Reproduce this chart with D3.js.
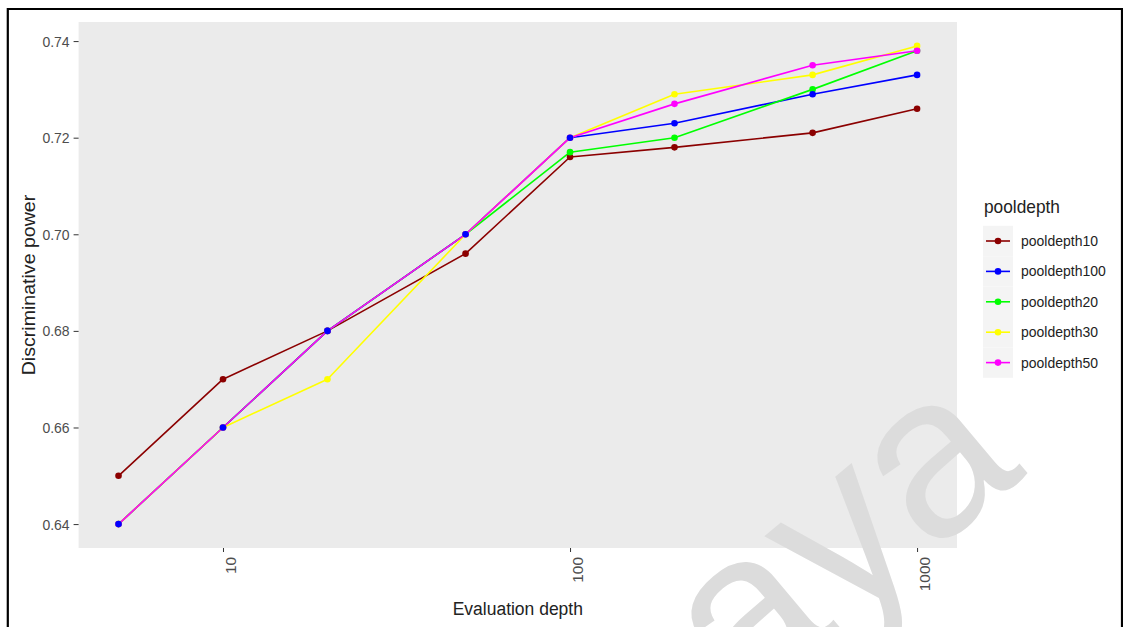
<!DOCTYPE html>
<html>
<head>
<meta charset="utf-8">
<script src="https://cdn.jsdelivr.net/npm/d3@7/dist/d3.min.js"></script>
<style>
  html, body { margin: 0; padding: 0; background: #ffffff; }
  svg { display: block; font-family: "Liberation Sans", Arial, sans-serif; }
</style>
</head>
<body>
<script>
// Evaluation depths (x) and discriminative power per pool depth
const depths = [5, 10, 20, 50, 100, 200, 500, 1000];
const seriesNames = ["pooldepth10", "pooldepth100", "pooldepth20", "pooldepth30", "pooldepth50"];
const pooldepth10  = [0.650, 0.670, 0.680, 0.696, 0.716, 0.718, 0.721, 0.726];
const pooldepth100 = [0.640, 0.660, 0.680, 0.700, 0.720, 0.723, 0.729, 0.733];
const pooldepth20  = [0.640, 0.660, 0.680, 0.700, 0.717, 0.720, 0.730, 0.738];
const pooldepth30  = [0.640, 0.660, 0.670, 0.700, 0.720, 0.729, 0.733, 0.739];
const pooldepth50  = [0.640, 0.660, 0.680, 0.700, 0.720, 0.727, 0.735, 0.738];
const seriesColors = ["#8b0000", "#0000ff", "#00ff00", "#ffff00", "#ff00ff"];
const xTicks = [10, 100, 1000];
const yTicks = [0.64, 0.66, 0.68, 0.70, 0.72, 0.74];

const seriesValues = [pooldepth10, pooldepth100, pooldepth20, pooldepth30, pooldepth50];
const series = seriesNames.map((name, i) => ({
  name,
  color: seriesColors[i],
  points: depths.map((d, j) => ({ x: d, y: seriesValues[i][j] }))
}));

const W = 1123, H = 627;
const panel = { left: 78.6, right: 957, top: 22, bottom: 548 };
const stretch = 1.1; // glyphs are a little taller than wide

const svg = d3.select("body").append("svg").attr("width", W).attr("height", H);

// Scales with ggplot-style 5% expansion (log space for x)
const lx = d3.extent(depths).map(Math.log10);
const ex = (lx[1] - lx[0]) * 0.05;
const x = d3.scaleLog()
  .domain([Math.pow(10, lx[0] - ex), Math.pow(10, lx[1] + ex)])
  .range([panel.left, panel.right]);
const yExt = d3.extent(seriesValues.flat());
const ey = (yExt[1] - yExt[0]) * 0.05;
const y = d3.scaleLinear()
  .domain([yExt[0] - ey, yExt[1] + ey])
  .range([panel.bottom, panel.top]);

// Panel background
svg.append("rect")
  .attr("x", panel.left).attr("y", panel.top)
  .attr("width", panel.right - panel.left).attr("height", panel.bottom - panel.top)
  .attr("fill", "#ebebeb");

// Axes
const yAxis = svg.append("g")
  .attr("transform", `translate(${panel.left},0)`)
  .call(d3.axisLeft(y).tickValues(yTicks).tickFormat(d3.format(".2f")).tickSize(5).tickPadding(4));
yAxis.select(".domain").remove();
yAxis.selectAll(".tick line").attr("stroke", "#333333").attr("stroke-width", 1);
yAxis.selectAll(".tick text")
  .attr("fill", "#4d4d4d")
  .attr("font-size", 14)
  .attr("font-family", "Liberation Sans, Arial, sans-serif")
  .attr("transform", `scale(1,${stretch})`);

const xAxis = svg.append("g")
  .attr("transform", `translate(0,${panel.bottom})`)
  .call(d3.axisBottom(x).tickValues(xTicks).tickFormat(d3.format("d")).tickSize(4));
xAxis.select(".domain").remove();
xAxis.selectAll(".tick line").attr("stroke", "#333333").attr("stroke-width", 1);
xAxis.selectAll(".tick text")
  .attr("fill", "#4d4d4d")
  .attr("font-size", 14)
  .attr("font-family", "Liberation Sans, Arial, sans-serif")
  .attr("x", 0).attr("y", 0).attr("dy", null)
  .attr("text-anchor", "end")
  .attr("transform", `translate(12.5,9) scale(1,${stretch}) rotate(-90)`);

// Lines
const line = d3.line().x(d => x(d.x)).y(d => y(d.y));
svg.append("g").selectAll("path")
  .data(series)
  .join("path")
  .attr("d", d => line(d.points))
  .attr("fill", "none")
  .attr("stroke", d => d.color)
  .attr("stroke-width", 1.6)
  .attr("stroke-linejoin", "round");

// Points (blue drawn last so it sits on top where series coincide)
const pointOrder = ["pooldepth10", "pooldepth20", "pooldepth30", "pooldepth50", "pooldepth100"];
const pg = svg.append("g");
pointOrder.forEach(name => {
  const s = series.find(v => v.name === name);
  pg.append("g").selectAll("circle")
    .data(s.points)
    .join("circle")
    .attr("cx", d => x(d.x))
    .attr("cy", d => y(d.y))
    .attr("r", 3.3)
    .attr("fill", s.color);
});

// Axis titles
function label(g, tx, ty, str, size, anchor, rot) {
  return g.append("text")
    .attr("transform", `translate(${tx},${ty}) scale(1,${stretch})` + (rot ? ` rotate(${rot})` : ""))
    .attr("text-anchor", anchor)
    .attr("font-size", size)
    .attr("fill", "#222222")
    .text(str);
}
label(svg, (panel.left + panel.right) / 2, 615, "Evaluation depth", 17.5, "middle", 0);
label(svg, 35, (panel.top + panel.bottom) / 2, "Discriminative power", 17.8, "middle", -90);

// Legend
const lg = svg.append("g");
label(lg, 984, 213, "pooldepth", 17.3, "start", 0);
const rowY = i => 241 + i * 30.4;
series.forEach((s, i) => {
  const cy = rowY(i);
  lg.append("rect")
    .attr("x", 983).attr("y", cy - 15.2)
    .attr("width", 30).attr("height", 30.4)
    .attr("fill", "#f4f4f4");
  lg.append("line")
    .attr("x1", 986).attr("x2", 1010)
    .attr("y1", cy).attr("y2", cy)
    .attr("stroke", s.color).attr("stroke-width", 1.6);
  lg.append("circle")
    .attr("cx", 998).attr("cy", cy).attr("r", 3.3)
    .attr("fill", s.color);
  lg.append("text")
    .attr("transform", `translate(1021,${cy + 5}) scale(1,${stretch})`)
    .attr("font-size", 14)
    .attr("fill", "#222222")
    .text(s.name);
});

// Watermark
svg.append("text")
  .attr("transform", "translate(744,712) rotate(-40)")
  .attr("font-size", 230)
  .attr("font-family", "Liberation Sans, Arial, sans-serif")
  .attr("fill", "#dcdcdc")
  .text("aya");

// Page frame
const frame = svg.append("g").attr("stroke", "#000000").attr("stroke-width", 2.2).attr("fill", "none");
frame.append("path").attr("d", `M7.8,${H} V9 H1122 V${H}`);
</script>
</body>
</html>
